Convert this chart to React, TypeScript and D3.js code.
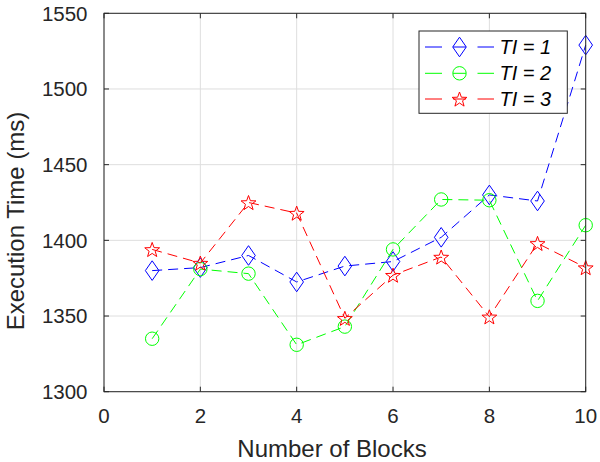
import React from "react";
import * as d3 from "d3";

const blocks = [1, 2, 3, 4, 5, 6, 7, 8, 9, 10];
const ti1 = [1380, 1382, 1390, 1372.5, 1383, 1386, 1402, 1430, 1426, 1529];
const ti2 = [1335, 1381, 1378, 1331, 1343, 1394, 1427, 1426.5, 1360, 1410];
const ti3 = [1394, 1385, 1425, 1418, 1348.5, 1377, 1389, 1349.5, 1398, 1382];
const xTicks = [0, 2, 4, 6, 8, 10];
const yTicks = [1300, 1350, 1400, 1450, 1500, 1550];
const seriesNames = ["TI = 1", "TI = 2", "TI = 3"];
const seriesColors = ["#0000ff", "#00ff00", "#ff0000"];
const seriesMarkers = ["diamond", "circle", "star"];

const W = 600, H = 462;
const L = 104, R = 585.7, T = 13.3, B = 391.7;
const FONT = "'Liberation Sans', Arial, Helvetica, sans-serif";

function markerPath(kind: string, cx: number, cy: number): string {
  if (kind === "diamond") {
    const hw = 6.8, hh = 9.8;
    return `M${cx},${cy - hh}L${cx + hw},${cy}L${cx},${cy + hh}L${cx - hw},${cy}Z`;
  }
  if (kind === "circle") {
    const r = 6.7;
    return `M${cx + r},${cy}A${r},${r} 0 1,1 ${cx - r},${cy}A${r},${r} 0 1,1 ${cx + r},${cy}Z`;
  }
  const ro = 7.8, ri = 3.2;
  const pts: string[] = [];
  for (let i = 0; i < 10; i++) {
    const a = -Math.PI / 2 + (i * Math.PI) / 5;
    const r = i % 2 === 0 ? ro : ri;
    pts.push(`${cx + r * Math.cos(a)},${cy + r * Math.sin(a) + 0.8}`);
  }
  return "M" + pts.join("L") + "Z";
}

export default function App() {
  const x = d3.scaleLinear().domain([0, 10]).range([L, R]);
  const y = d3.scaleLinear().domain([1300, 1550]).range([B, T]);
  const data = [ti1, ti2, ti3];
  const line = d3
    .line<number>()
    .x((_, i) => x(blocks[i]))
    .y((d) => y(d));

  const legL = 419, legT = 31, legR = 567.3, legB = 113.3;
  const rowY = [47, 73.3, 99];

  return (
    <svg
      width={W}
      height={H}
      style={{ position: "absolute", left: 0, top: 0, background: "#fff" }}
      fontFamily={FONT}
    >
      <rect x={0} y={0} width={W} height={H} fill="#fff" />
      {/* grid */}
      {xTicks.map((t) => (
        <line key={"gx" + t} x1={x(t)} x2={x(t)} y1={T} y2={B} stroke="#dedede" strokeWidth={1} />
      ))}
      {yTicks.map((t) => (
        <line key={"gy" + t} x1={L} x2={R} y1={y(t)} y2={y(t)} stroke="#dedede" strokeWidth={1} />
      ))}
      {/* series */}
      {data.map((s, k) => (
        <g key={"s" + k}>
          <path d={line(s) || ""} fill="none" stroke={seriesColors[k]} strokeWidth={1} strokeDasharray="10,6" />
          {s.map((v, i) => (
            <path
              key={i}
              d={markerPath(seriesMarkers[k], x(blocks[i]), y(v))}
              fill="none"
              stroke={seriesColors[k]}
              strokeWidth={1}
            />
          ))}
        </g>
      ))}
      {/* axes box */}
      <rect x={L} y={T} width={R - L} height={B - T} fill="none" stroke="#262626" strokeWidth={1} />
      {xTicks.map((t) => (
        <g key={"tx" + t}>
          <line x1={x(t)} x2={x(t)} y1={B} y2={B - 5} stroke="#262626" />
          <line x1={x(t)} x2={x(t)} y1={T} y2={T + 5} stroke="#262626" />
          <text x={x(t)} y={422.5} fontSize={20.5} fill="#262626" textAnchor="middle">
            {t}
          </text>
        </g>
      ))}
      {yTicks.map((t) => (
        <g key={"ty" + t}>
          <line x1={L} x2={L + 5} y1={y(t)} y2={y(t)} stroke="#262626" />
          <line x1={R} x2={R - 5} y1={y(t)} y2={y(t)} stroke="#262626" />
          <text x={87.5} y={y(t) + 7.2} fontSize={20.5} fill="#262626" textAnchor="end">
            {t}
          </text>
        </g>
      ))}
      <text x={332} y={456.5} fontSize={24} fill="#262626" textAnchor="middle">
        Number of Blocks
      </text>
      <text
        transform={`translate(23.5,221) rotate(-90)`}
        fontSize={24}
        fill="#262626"
        textAnchor="middle"
      >
        Execution Time (ms)
      </text>
      {/* legend */}
      <rect x={legL} y={legT} width={legR - legL} height={legB - legT} fill="#fff" stroke="#262626" strokeWidth={1} />
      {seriesNames.map((n, k) => (
        <g key={"l" + k}>
          <line x1={425} x2={442} y1={rowY[k]} y2={rowY[k]} stroke={seriesColors[k]} />
          <line x1={453} x2={466} y1={rowY[k]} y2={rowY[k]} stroke={seriesColors[k]} />
          <line x1={477.5} x2={494} y1={rowY[k]} y2={rowY[k]} stroke={seriesColors[k]} />
          <path d={markerPath(seriesMarkers[k], 459.5, rowY[k])} fill="none" stroke={seriesColors[k]} />
          <text x={499.5} y={rowY[k] + 7} fontSize={20} fontStyle="italic" fill="#000">
            {n}
          </text>
        </g>
      ))}
    </svg>
  );
}
